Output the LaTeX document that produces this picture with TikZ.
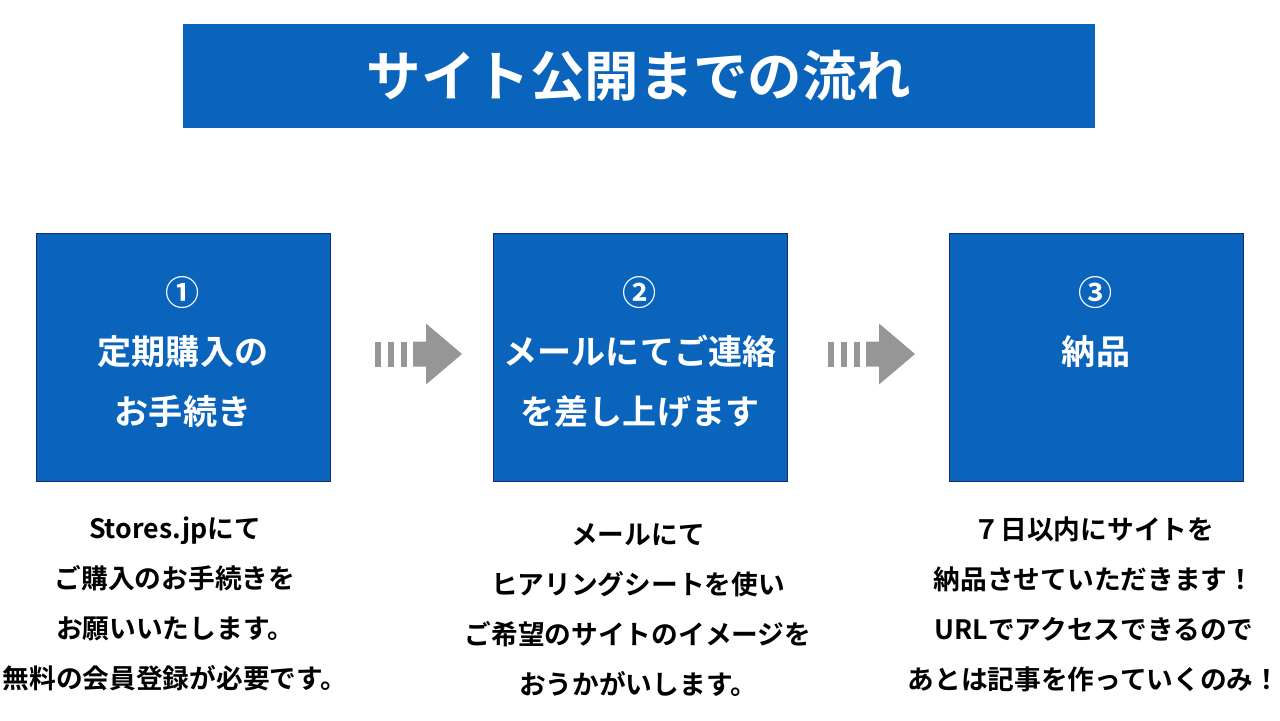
\documentclass[tikz,border=0pt]{standalone}
\usepackage{fontspec}
\usetikzlibrary{calc}
\newfontfamily\jpfont{Noto Sans CJK JP Bold}
\definecolor{flowblue}{RGB}{10,100,188}
\definecolor{flowedge}{RGB}{25,40,120}
\definecolor{arrowgray}{RGB}{150,150,150}
\newcommand{\flowarrow}[1]{
\begin{scope}[shift={(#1)}]
\foreach \bx in {0,13,26} { \fill[arrowgray] (\bx,-12.5) rectangle ++(6,25); }
\fill[arrowgray] (38,-12.5) -- (51,-12.5) -- (51,-30.5) -- (87,0) -- (51,30.5) -- (51,12.5) -- (38,12.5) -- cycle;
\end{scope}}
\tikzset{
  stage/.style={draw=flowedge, fill=flowblue, minimum width=5.88cm, minimum height=4.96cm, inner sep=0pt},
  stagetext/.style={text=white, align=center, font=\jpfont\fontsize{19.4}{34}\selectfont},
  note/.style={align=center, font=\jpfont\fontsize{15.2}{28.5}\selectfont},
}
\begin{document}
\begin{tikzpicture}[x=0.02cm, y=-0.02cm]
\useasboundingbox (0,0) rectangle (1280,720);
% title bar
\node[fill=flowblue, minimum width=18.24cm, minimum height=2.08cm, inner sep=0pt] (title) at (639,76) {};
\node[text=white, font=\jpfont\fontsize{31}{36}\selectfont] (titletext) at (title) {サイト公開までの流れ};
% the three stages
\node[stage] (s1) at (183,357) {};
\node[stage] (s2) at (640,357) {};
\node[stage] (s3) at (1096,357) {};
% stage labels
\node[stagetext] (t1) at (183,352) {①\\定期購入の\\お手続き};
\node[stagetext] (t2) at (640,352) {②\\メールにてご連絡\\を差し上げます};
\node[stagetext] (t3) at (1096,322) {③\\納品};
% arrows between the stages
\coordinate (go1) at (375,354);
\coordinate (go2) at (828,354);
\flowarrow{go1}
\flowarrow{go2}
% notes under the stages
\node[note] (n1) at (175,604) {Stores.jpにて\\ご購入のお手続きを\\お願いいたします。\\無料の会員登録が必要です。};
\node[note] (n2) at (638,610) {メールにて\\ヒアリングシートを使い\\ご希望のサイトのイメージを\\おうかがいします。};
\node[note] (n3) at (1094,604) {７日以内にサイトを\\納品させていただきます！\\URLでアクセスできるので\\あとは記事を作っていくのみ！};
\end{tikzpicture}
\end{document}
